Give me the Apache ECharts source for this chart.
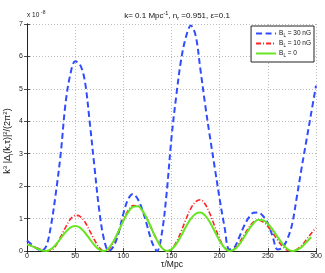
<!DOCTYPE html>
<html><head><meta charset="utf-8">
<script src="https://cdn.jsdelivr.net/npm/echarts@6/dist/echarts.min.js"></script>
<style>html,body{margin:0;padding:0;background:#fff}#c{width:325px;height:273px}</style>
</head><body><div id="c"></div>
<script>
const tau = [0,5,10,15,20,25,30,35,40,45,50,55,60,65,70,75,80,85,90,95,100,105,110,115,120,125,130,135,140,145,150,155,160,165,170,175,180,185,190,195,200,205,210,215,220,225,230,235,240,245,250,255,260,265,270,275,280,285,290,295,300];
const b30 = [0.32,0.2,0.08,0.01,0.15,0.8,1.8,3.0,4.55,5.45,5.85,5.75,5.25,4.0,2.6,1.25,0.35,0.0,0.15,0.55,1.15,1.6,1.76,1.6,1.25,0.75,0.25,0.0,0.55,1.8,3.5,4.8,5.9,6.6,6.95,6.65,5.6,4.5,3.5,2.55,1.6,0.75,0.05,0.1,0.4,0.75,1.02,1.18,1.19,1.08,0.85,0.45,0.05,0.1,0.35,0.8,1.65,2.55,3.4,4.25,5.1];
const b10 = [0.2,0.16,0.1,0.04,0.005,0.02,0.17,0.44,0.73,0.98,1.10,1.07,0.90,0.63,0.34,0.11,0.0,0.06,0.28,0.60,0.96,1.25,1.40,1.39,1.23,0.97,0.64,0.34,0.105,0.0,0.06,0.27,0.60,0.98,1.31,1.52,1.58,1.44,1.14,0.75,0.37,0.10,0.0,0.06,0.24,0.475,0.71,0.89,0.95,0.90,0.76,0.56,0.34,0.15,0.03,0.005,0.05,0.17,0.35,0.54,0.72];
const b0 = [0.2,0.15,0.08,0.02,0.0,0.06,0.20,0.39,0.58,0.72,0.77,0.72,0.57,0.375,0.18,0.044,0.0,0.09,0.31,0.61,0.93,1.20,1.36,1.38,1.24,0.97,0.64,0.33,0.095,0.0,0.05,0.22,0.47,0.75,0.99,1.15,1.19,1.09,0.88,0.595,0.31,0.10,0.0,0.04,0.19,0.41,0.65,0.85,0.96,0.95,0.84,0.66,0.44,0.23,0.07,0.0,0.03,0.12,0.27,0.43,null];
const seriesNames = ['30 nG','10 nG','0'];
const xTicks = [0,50,100,150,200,250,300];
const yTicks = [0,1,2,3,4,5,6,7];

const F = 'Liberation Sans, Arial, sans-serif';
const pair = arr => tau.map((t,i)=>[t,arr[i]]);
const chart = echarts.init(document.getElementById('c'), null, {renderer:'canvas'});
const axisLine = {show:true, lineStyle:{color:'#222', width:1}};
const tick = {show:true, inside:true, length:3, lineStyle:{color:'#222', width:0.8}};
const grid = {show:true, lineStyle:{color:'#bdbdbd', type:[1,2], width:1}};
const richSmall = {
  sup:{fontSize:6, verticalAlign:'top', lineHeight:12, fontFamily:F, fill:'#111', color:'#111'},
  sub:{fontSize:6, verticalAlign:'bottom', lineHeight:12, fontFamily:F, fill:'#111', color:'#111'}
};
chart.setOption({
  animation:false,
  title:{
    text:'k= 0.1 Mpc{sup|-1}, n{sub|r} =0.951, ε=0.1',
    left:172, top:5, textAlign:'center',
    textStyle:{fontFamily:F, fontSize:8, fontWeight:'normal', color:'#111', lineHeight:11,
      rich:{sup:{fontSize:5.5, verticalAlign:'top', lineHeight:11, fontFamily:F, color:'#111'},
            sub:{fontSize:5.5, verticalAlign:'bottom', lineHeight:11, fontFamily:F, color:'#111'}}}
  },
  graphic:[
    {type:'text', left:27, top:12, style:{text:'x 10', fontFamily:F, fontSize:6.5, fill:'#222'}},
    {type:'text', left:41, top:10, style:{text:'-8', fontFamily:F, fontSize:5, fill:'#222'}},
    {type:'text', x:8, y:141, rotation:Math.PI/2,
     style:{text:'k{sup|3} |Δ{sub|l}(k,τ)|{sup|2}/(2π{sup|2})', fontFamily:F, fontSize:9, fill:'#111',
            lineHeight:12, align:'center', verticalAlign:'middle', rich:richSmall}},
    {type:'text', x:172, y:265,
     style:{text:'τ/Mpc', fontFamily:F, fontSize:8.5, fill:'#111', align:'center', verticalAlign:'middle'}}
  ],
  grid:{left:27, right:9, top:24, bottom:22, outerBoundsMode:'none', containLabel:false},
  legend:{
    data:seriesNames, orient:'vertical', right:11, top:26,
    itemWidth:20, itemHeight:8, itemGap:2, padding:[4,3,4,4],
    borderColor:'#222', borderWidth:1, backgroundColor:'#fff',
    itemStyle:{opacity:0},
    formatter: n => 'B{sub|L} = ' + n,
    textStyle:{fontFamily:F, fontSize:6.5, color:'#111', padding:[0,0,0,-2],
      rich:{sub:{fontSize:4.5, verticalAlign:'bottom', lineHeight:9, fontFamily:F, color:'#111'}}}
  },
  xAxis:[{
    type:'value', min:0, max:300, interval:50, position:'bottom',
    axisLine, axisTick:tick, splitLine:grid,
    axisLabel:{fontFamily:F, fontSize:7, color:'#222', margin:2,
      formatter:v => xTicks.includes(v) ? String(v) : ''}
  },{
    type:'value', min:0, max:300, interval:50, position:'top',
    axisLine, axisTick:tick, splitLine:{show:false}, axisLabel:{show:false}
  }],
  yAxis:[{
    type:'value', min:0, max:7, interval:1, position:'left',
    axisLine, axisTick:tick, splitLine:grid,
    axisLabel:{fontFamily:F, fontSize:7, color:'#222', margin:4,
      formatter:v => yTicks.includes(v) ? String(v) : ''}
  },{
    type:'value', min:0, max:7, interval:1, position:'right',
    axisLine, axisTick:tick, splitLine:{show:false}, axisLabel:{show:false}
  }],
  series:[
    {name:seriesNames[0], type:'line', data:pair(b30), smooth:0.35, symbol:'none', showSymbol:false,
     lineStyle:{color:'#2f4cff', width:2, type:[6,3.5]}, itemStyle:{color:'#2f4cff'}, z:3},
    {name:seriesNames[1], type:'line', data:pair(b10), smooth:0.35, symbol:'none', showSymbol:false,
     lineStyle:{color:'#ff2424', width:1.6, type:[5,2,1,2]}, itemStyle:{color:'#ff2424'}, z:4},
    {name:seriesNames[2], type:'line', data:pair(b0), smooth:0.35, symbol:'none', showSymbol:false, connectNulls:false,
     lineStyle:{color:'#66e622', width:2}, itemStyle:{color:'#66e622'}, z:5}
  ]
});
</script></body></html>
